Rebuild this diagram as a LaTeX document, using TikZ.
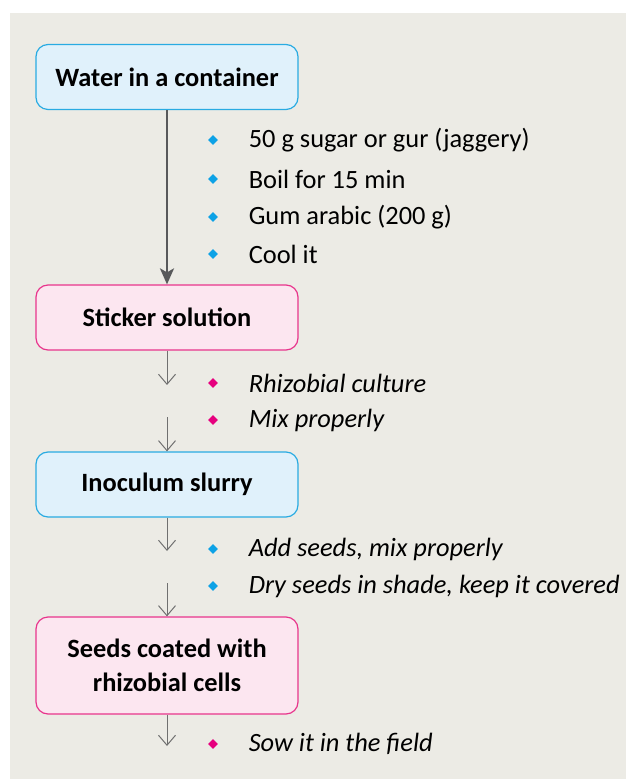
\documentclass[tikz,border=0pt]{standalone}
\usepackage{fontspec}
\setmainfont{Carlito}
\usetikzlibrary{positioning,shapes.geometric,arrows.meta}
\definecolor{bgpanel}{HTML}{ECEBE5}
\definecolor{cyanline}{HTML}{29ABE2}
\definecolor{cyanfill}{HTML}{E0F1FB}
\definecolor{pinkline}{HTML}{E8358C}
\definecolor{pinkfill}{HTML}{FCE6F0}
\definecolor{cyandot}{HTML}{0DA2E6}
\definecolor{pinkdot}{HTML}{E6007E}
\definecolor{darkarrow}{HTML}{58595B}
\definecolor{thinarrow}{HTML}{707070}
\tikzset{x=0.5pt,y=-0.5pt}

\begin{document}
\begin{tikzpicture}[box/.style={rectangle,rounded corners=6pt,line width=0.6pt,
        minimum width=131pt,minimum height=32.5pt,align=center,
        font=\fontsize{13.2}{17}\selectfont\bfseries},
    bluebox/.style={box,draw=cyanline,fill=cyanfill},
    pinkbox/.style={box,draw=pinkline,fill=pinkfill},
    dot/.style={diamond,fill=#1,inner sep=0pt,minimum size=5pt},
    item/.style={inner sep=0pt,font=\fontsize{13.2}{15}\selectfont},
    itemit/.style={item,font=\fontsize{13.2}{15}\selectfont\itshape},
    thin/.style={thinarrow,line width=0.5pt,-{Straight Barb[length=5pt,width=8.5pt]}}]
        \useasboundingbox (0,0) rectangle (626,779);
        \fill[bgpanel] (10,13) rectangle (626,779);

        \node[bluebox] (water) at (167,77) {Water in a container};
        \node[pinkbox] (sticker) at (167,317.5) {Sticker solution};
        \node[bluebox] (slurry) at (167,484.5) {Inoculum slurry};
        \node[pinkbox,minimum height=48.5pt] (coated) at (167,665.5) {Seeds coated with\\rhizobial cells};

        % first list
        \node[dot=cyandot] (d1) at (213,140) {};
        \node[item,right=15pt of d1] (t1) {50 g sugar or gur (jaggery)};
        \node[dot=cyandot] (d2) at (213,179) {};
        \node[item,right=15pt of d2] (t2) {Boil for 15 min};
        \node[dot=cyandot] (d3) at (213,217) {};
        \node[item,right=15pt of d3] (t3) {Gum arabic (200 g)};
        \node[dot=cyandot] (d4) at (213,254) {};
        \node[item,right=15pt of d4] (t4) {Cool it};

        % second list
        \node[dot=pinkdot] (d5) at (213,383) {};
        \node[itemit,right=15pt of d5] (t5) {Rhizobial culture};
        \node[dot=pinkdot] (d6) at (213,420) {};
        \node[itemit,right=15pt of d6] (t6) {Mix properly};

        % third list
        \node[dot=cyandot] (d7) at (213,549) {};
        \node[itemit,right=15pt of d7] (t7) {Add seeds, mix properly};
        \node[dot=cyandot] (d8) at (213,586) {};
        \node[itemit,right=15pt of d8] (t8) {Dry seeds in shade, keep it covered};

        % last step
        \node[dot=pinkdot] (d9) at (213,744) {};
        \node[itemit,right=15pt of d9] (t9) {Sow it in the field};

        % arrows
        \coordinate (s1) at (167,385);
        \coordinate (s2) at (167,417);
        \coordinate (s3) at (167,551);
        \coordinate (s4) at (167,583);
        \coordinate (s5) at (167,746);
        \draw[darkarrow,line width=1.3pt,-{Stealth[length=8pt,width=7pt,inset=2pt]}] (water) -- (sticker);
        \draw[thin] (sticker) -- (s1);
        \draw[thin] (s2) -- (slurry);
        \draw[thin] (slurry) -- (s3);
        \draw[thin] (s4) -- (coated);
        \draw[thin] (coated) -- (s5);
\end{tikzpicture}
\end{document}
